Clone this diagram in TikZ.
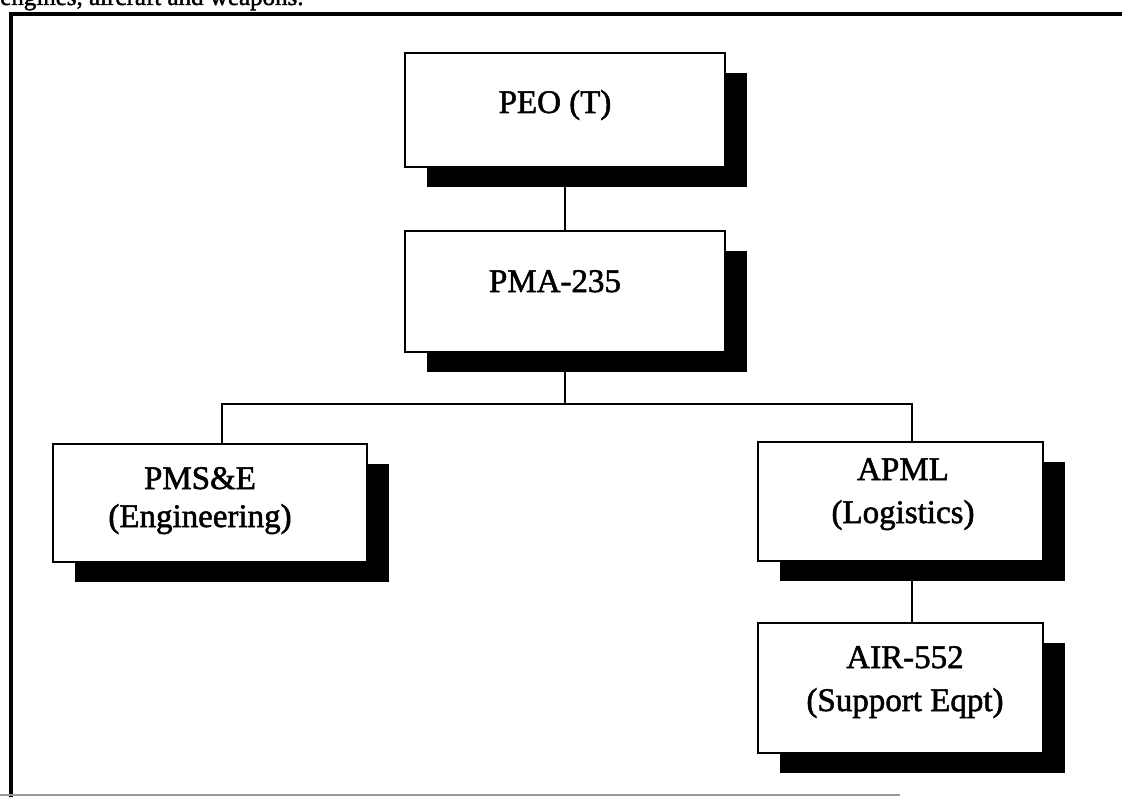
\documentclass[tikz,border=0pt]{standalone}
\usepackage{fontspec}
\setmainfont{Liberation Serif}
\newfontfamily\heavyserif{Liberation Serif}[FakeBold=1.6]
\usetikzlibrary{shadows,backgrounds}
\begin{document}
\begin{tikzpicture}[x=1pt,y=-1pt,
  box/.style={draw=black, line width=2.6pt, fill=white, rectangle, inner sep=0pt,
    drop shadow={shadow xshift=22pt, shadow yshift=-20pt, fill=black, opacity=1}},
  lbl/.style={font=\heavyserif\fontsize{33}{38}\selectfont, inner sep=0pt, align=center},
  lblw/.style={font=\heavyserif\fontsize{33}{43}\selectfont, inner sep=0pt, align=center},
  conn/.style={draw=black, line width=2.6pt}]
\useasboundingbox (0,0) rectangle (1122,797);
% clipped text line at the top
\node[font=\heavyserif\fontsize{25}{30}\selectfont, anchor=base west, inner sep=0pt] (toptext) at (0,5) {engines, aircraft and weapons.};
% frame
\draw[line width=3.5pt] (11,797) -- (11,14) -- (1122,14);
\draw[line width=1.2pt, black!40] (0,795) -- (900,795);
% boxes
\node[box, minimum width=320pt, minimum height=114pt] (peo) at (565,110) {};
\node[box, minimum width=320pt, minimum height=121pt] (pma) at (565,291.5) {};
\node[box, minimum width=314pt, minimum height=118pt] (pms) at (210,503) {};
\node[box, minimum width=285pt, minimum height=119pt] (apml) at (900.5,501.5) {};
\node[box, minimum width=285pt, minimum height=130pt] (air) at (900.5,688) {};
% texts
\node[lbl, anchor=base] (tpeo) at (555,113) {PEO (T)};
\node[lbl, anchor=base] (tpma) at (555,292) {PMA-235};
\node[lbl, anchor=base] (tpms) at (200,527) {PMS\&E\\(Engineering)};
\node[lblw, anchor=base] (tapml) at (903,523) {APML\\(Logistics)};
\node[lblw, anchor=base] (tair) at (905,711) {AIR-552\\(Support Eqpt)};
% connectors
\coordinate (hb) at (565,404);
\coordinate (jl) at (222,404);
\coordinate (jr) at (912,404);
\begin{pgfonlayer}{background}
\draw[conn] (peo.south) -- (pma.north);
\draw[conn] (pma.south) -- (hb);
\draw[conn] (jl |- pms.north) -- (jl) -- (jr) -- (jr |- apml.north);
\draw[conn] (jr |- apml.south) -- (jr |- air.north);
\end{pgfonlayer}
\end{tikzpicture}
\end{document}
